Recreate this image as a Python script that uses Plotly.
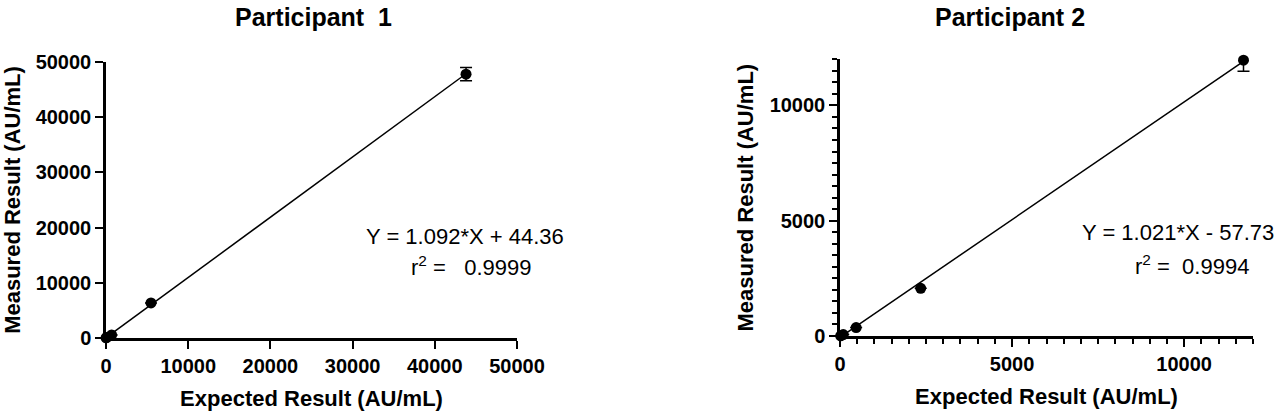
from plotly.subplots import make_subplots
import plotly.graph_objects as go


############################################################
# DATA
############################################################

p1_expected = [11, 86, 684, 5475, 43800]
p1_measured = [30, 110, 560, 6350, 47800]
p1_sd = [0, 0, 0, 0, 1200]
p1_slope = 1.092
p1_intercept = 44.36
p1_r2 = "0.9999"

p2_expected = [19, 94, 469, 2345, 11724]
p2_measured = [10, 60, 365, 2070, 11960]
p2_sd = [0, 0, 0, 0, 480]
p2_slope = 1.021
p2_intercept = -57.73
p2_r2 = "0.9994"

FONT = "Liberation Sans, Arial, sans-serif"


############################################################
# FIGURE
############################################################

fig = make_subplots(rows=1, cols=2)


def add_panel(fig, col, xs, ys, sd, slope, intercept):

    # regression line from 0 to the last point
    x_end = max(xs)

    fig.add_trace(
        go.Scatter(
            x=[0, x_end],
            y=[intercept, slope * x_end + intercept],
            mode="lines",
            line=dict(color="black", width=1.5),
            hoverinfo="skip",
        ),
        row=1,
        col=col,
    )

    fig.add_trace(
        go.Scatter(
            x=xs,
            y=ys,
            mode="markers",
            marker=dict(color="black", size=11),
            error_y=dict(
                type="data",
                array=sd,
                color="black",
                thickness=1.5,
                width=6,
            ),
            cliponaxis=False,
        ),
        row=1,
        col=col,
    )


add_panel(fig, 1, p1_expected, p1_measured, p1_sd, p1_slope, p1_intercept)
add_panel(fig, 2, p2_expected, p2_measured, p2_sd, p2_slope, p2_intercept)


############################################################
# AXES
############################################################

axis_common = dict(
    showline=True,
    linecolor="black",
    linewidth=2.5,
    showgrid=False,
    zeroline=False,
    ticks="outside",
    ticklen=8,
    tickwidth=2,
    tickcolor="black",
    tickformat="d",
    tickfont=dict(family=FONT, size=20, color="black", weight="bold"),
    automargin=False,
)

title_font = dict(family=FONT, size=22, color="black", weight="bold")

fig.update_xaxes(
    **axis_common,
    range=[0, 50000],
    dtick=10000,
    domain=[106 / 1280, 517 / 1280],
    title=dict(text="Expected Result (AU/mL)", font=title_font, standoff=15),
    row=1,
    col=1,
)

fig.update_yaxes(
    **axis_common,
    range=[0, 50000],
    dtick=10000,
    domain=[1 - 338 / 414, 1 - 62 / 414],
    title=dict(text="Measured Result (AU/mL)", font=title_font, standoff=10),
    row=1,
    col=1,
)

minor = dict(ticks="outside", dtick=500, ticklen=5, tickwidth=2, tickcolor="black")

fig.update_xaxes(
    **axis_common,
    range=[0, 12000],
    dtick=5000,
    minor=minor,
    domain=[840 / 1280, 1253 / 1280],
    title=dict(text="Expected Result (AU/mL)", font=title_font, standoff=15),
    row=1,
    col=2,
)

fig.update_yaxes(
    **axis_common,
    range=[0, 12000],
    dtick=5000,
    minor=minor,
    domain=[1 - 336 / 414, 1 - 59.3 / 414],
    title=dict(text="Measured Result (AU/mL)", font=title_font, standoff=10),
    row=1,
    col=2,
)


############################################################
# ANNOTATIONS
############################################################

eq_font = dict(family=FONT, size=22, color="black")

fig.add_annotation(
    x=31400, y=18300, xref="x", yref="y",
    text="Y = %.3f*X + %.2f" % (p1_slope, p1_intercept),
    showarrow=False, xanchor="left", yanchor="middle", font=eq_font,
)
fig.add_annotation(
    x=36900, y=13050, xref="x", yref="y",
    text="r<sup>2</sup> =   " + p1_r2,
    showarrow=False, xanchor="left", yanchor="middle", font=eq_font,
)
fig.add_annotation(
    x=6980, y=4470, xref="x2", yref="y2",
    text="Y = %.3f*X - %.2f" % (p2_slope, abs(p2_intercept)),
    showarrow=False, xanchor="left", yanchor="middle", font=eq_font,
)
fig.add_annotation(
    x=8500, y=3080, xref="x2", yref="y2",
    text="r<sup>2</sup> =  " + p2_r2,
    showarrow=False, xanchor="left", yanchor="middle", font=eq_font,
)

title_ann = dict(family=FONT, size=25, color="black", weight="bold")

fig.add_annotation(
    x=313 / 1280, y=1 - 17 / 414, xref="paper", yref="paper",
    text="Participant\u00a0 1", showarrow=False,
    xanchor="center", yanchor="middle", font=title_ann,
)
fig.add_annotation(
    x=1010 / 1280, y=1 - 17 / 414, xref="paper", yref="paper",
    text="Participant 2", showarrow=False,
    xanchor="center", yanchor="middle", font=title_ann,
)


############################################################
# LAYOUT
############################################################

fig.update_layout(
    width=1280,
    height=414,
    margin=dict(l=0, r=0, t=0, b=0),
    paper_bgcolor="white",
    plot_bgcolor="white",
    showlegend=False,
    font=dict(family=FONT, color="black"),
)

# page body has a default 8px margin, drop it so the figure fills the window
fig.write_html(
    "out.html",
    config={"displayModeBar": False},
    post_script="document.body.style.margin = '0px';",
)
